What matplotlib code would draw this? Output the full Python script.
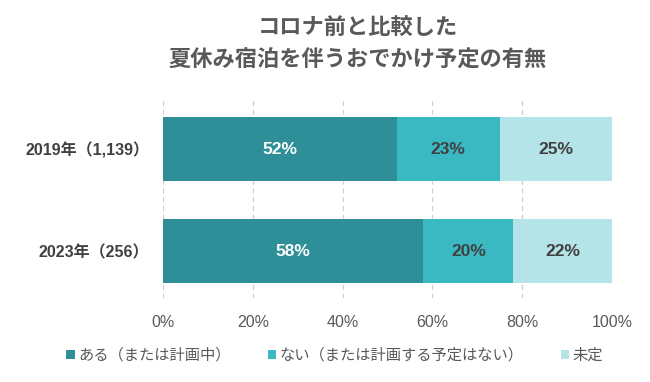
import matplotlib
matplotlib.use("Agg")
import matplotlib.pyplot as plt
import numpy as np

# data
categories = ["2019年（1,139）", "2023年（256）"]
series_names = ["ある（または計画中）", "ない（または計画する予定はない）", "未定"]
aru = [52, 58]
nai = [23, 20]
mitei = [25, 22]
colors = ["#2E8F98", "#3BB9C3", "#B4E3E8"]
label_colors = ["white", "#404040", "#404040"]
xticks = [0, 20, 40, 60, 80, 100]

plt.rcParams['font.family'] = ['Liberation Sans', 'Noto Sans CJK JP', 'DejaVu Sans']

fig = plt.figure(figsize=(6.5, 3.82), dpi=100)
ax = fig.add_axes([0.2508, 0.22, 0.6908, 0.526])

y = np.arange(len(categories))
left = np.zeros(len(categories))
for vals, name, col, lc in zip([aru, nai, mitei], series_names, colors, label_colors):
    vals = np.array(vals)
    ax.barh(y, vals, left=left, height=0.63, color=col, label=name, zorder=3)
    for yi, l, v in zip(y, left, vals):
        ax.text(l + v / 2, yi, f"{v}%", ha='center', va='center', color=lc,
                fontsize=12.5, fontweight='bold', zorder=4)
    left = left + vals

ax.set_xlim(0, 100)
ax.set_ylim(1.46, -0.51)
ax.set_xticks(xticks)
ax.set_xticklabels([f"{t}%" for t in xticks], color="#595959", fontsize=11.5)
ax.set_yticks(y)
ax.set_yticklabels(categories, color="#404040", fontsize=11.5, fontweight='bold')
ax.tick_params(length=0, pad=12)
ax.tick_params(axis='y', pad=10)
for s in ax.spines.values():
    s.set_visible(False)
ax.grid(axis='x', color="#D0D0D0", linestyle=(0, (4, 3)), linewidth=0.9, zorder=0)

fig.text(0.55, 0.927, "コロナ前と比較した", ha='center', va='center',
         fontsize=16, color="#595959", fontweight='bold', family=['Noto Sans CJK JP'])
fig.text(0.55, 0.843, "夏休み宿泊を伴うおでかけ予定の有無", ha='center', va='center',
         fontsize=16, color="#595959", fontweight='bold', family=['Noto Sans CJK JP'])

leg = fig.legend(loc='center', bbox_to_anchor=(0.515, 0.07), ncol=3, frameon=False,
                 handlelength=0.55, handleheight=0.55, handletextpad=0.25, columnspacing=2.4,
                 prop={'family': ['Noto Sans CJK JP'], 'size': 11})
for t in leg.get_texts():
    t.set_color("#595959")

fig.savefig("out.png", dpi=100)
